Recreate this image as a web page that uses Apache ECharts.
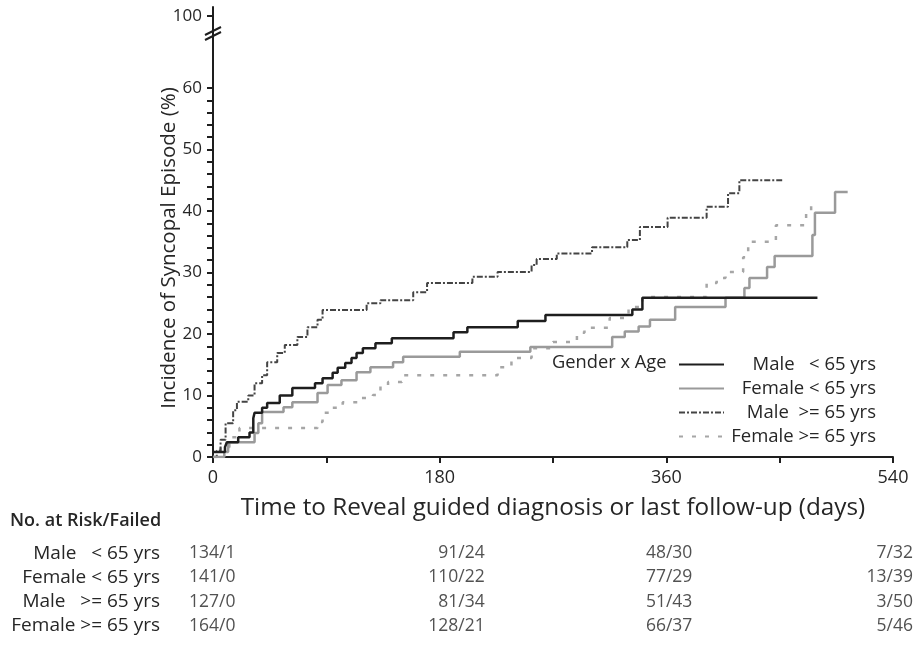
<!DOCTYPE html>
<html><head><meta charset="utf-8">
<script src="https://cdn.jsdelivr.net/npm/echarts@6/dist/echarts.min.js"></script>
<style>html,body{margin:0;padding:0;background:#fff}#c{width:921px;height:648px}</style>
</head><body><div id="c"></div>
<script>
const seriesNames = ['Male   < 65 yrs', 'Female < 65 yrs', 'Male  >= 65 yrs', 'Female >= 65 yrs'];

const maleU65Days = [0,9.5,11,20,29,32,33,39,43,53,63,81,87,95,99,105,110,114,119,129,142,191,202,242,264,333,341,480];
const maleU65Pct  = [0.8,1.6,2.4,3.2,4,6.3,7.2,8,8.8,10,11.2,12,12.8,13.7,14.5,15.3,16.1,16.9,17.7,18.5,19.3,20.3,21.1,22.1,23.1,24,25.9,25.9];

const femaleU65Days = [0,9,12,33,36,39,56,63,83,91,102,114,125,143,151,196,252,317,327,338,347,367,407,422,426,440,446,476,478,494,504];
const femaleU65Pct  = [0,0.8,2.4,3.9,5.5,7.3,8.1,8.9,10.4,11.7,12.5,13.8,14.6,15.4,16.3,17.1,17.9,19.5,20.4,21.2,22.3,24.4,25.9,27.5,29.1,30.9,32.7,36.1,39.7,43.1,43.1];

const maleO65Days = [0,3,6,10,16,19,28,33,39,43,51,57,67,75,83,87,122,133,159,170,206,226,253,257,273,301,329,339,361,392,409,418,452];
const maleO65Pct  = [0,1,2.8,5.5,7.6,9,10,12,13.3,15.4,16.9,18.2,19.5,21.1,22.3,23.9,25,25.5,26.8,28.3,29.3,30.1,31.2,32.2,33.1,34.1,35.3,37.4,38.9,40.7,42.9,45,45];

const femaleO65Days = [0,6,13,21,83,87,94,103,117,127,133,139,150,226,237,253,270,289,295,315,330,341,392,400,407,421,425,447,471,475,476];
const femaleO65Pct  = [0,1.6,3.2,4.7,5.7,7.2,8,8.9,9.6,10.1,11.7,12.2,13.3,14.6,16.1,17.7,18.7,20.2,21,22.6,24.4,26,28.3,29.1,30.1,32.5,35,37.7,39.7,41.8,41.8];

const xTicks = [0, 180, 360, 540];
const yTopTick = [100];

const riskHeader = 'No. at Risk/Failed';
const riskRowLabels = ['Male   < 65 yrs', 'Female < 65 yrs', 'Male   >= 65 yrs', 'Female >= 65 yrs'];
const riskDays = [0, 180, 360, 540];
const riskMaleU65   = ['134/1', '91/24', '48/30', '7/32'];
const riskFemaleU65 = ['141/0', '110/22', '77/29', '13/39'];
const riskMaleO65   = ['127/0', '81/34', '51/43', '3/50'];
const riskFemaleO65 = ['164/0', '128/21', '66/37', '5/46'];

const FONT = 'Open Sans';
const TXT = '#262626';
const AX = '#1e1e1e';

function pairs(d, v) { return d.map((t, i) => [t, v[i]]); }

const lineStyles = [
  { color: '#1e1e1e', width: 2.5, type: 'solid' },
  { color: '#9a9a9a', width: 2.5, type: 'solid' },
  { color: '#444444', width: 2, type: [6, 2, 2, 2] },
  { color: '#a6a6a6', width: 2.5, type: [4, 9] }
];
const curveData = [
  pairs(maleU65Days, maleU65Pct),
  pairs(femaleU65Days, femaleU65Pct),
  pairs(maleO65Days, maleO65Pct),
  pairs(femaleO65Days, femaleO65Pct)
];

const lineSeries = seriesNames.map((n, i) => ({
  name: n, type: 'line', step: 'end', symbol: 'none',
  xAxisIndex: 0, yAxisIndex: 0,
  data: curveData[i],
  lineStyle: lineStyles[i],
  itemStyle: { color: lineStyles[i].color },
  z: 10 - i
}));

const riskRows = [riskMaleU65, riskFemaleU65, riskMaleO65, riskFemaleO65];
const colLabel = [
  { align: 'left', offset: [-24, 0] },
  { align: 'right', offset: [45, 0] },
  { align: 'right', offset: [26, 0] },
  { align: 'right', offset: [20, 0] }
];
const riskData = [];
riskRows.forEach((row, r) => {
  row.forEach((txt, c) => {
    riskData.push({ name: txt, value: [riskDays[c], r], label: colLabel[c] });
  });
});

const chart = echarts.init(document.getElementById('c'), null, { renderer: 'canvas' });
chart.setOption({
  animation: false,
  backgroundColor: '#ffffff',
  textStyle: { fontFamily: FONT, color: TXT },
  grid: [
    { left: 213, right: 28, top: 88, bottom: 191 },
    { left: 213, right: 28, top: 7, height: 81 },
    { left: 213, right: 28, top: 541, height: 97 }
  ],
  xAxis: [
    {
      gridIndex: 0, type: 'value', min: 0, max: 540, interval: 180,
      axisLine: { show: true, onZero: false, lineStyle: { color: AX, width: 2 } },
      axisTick: { show: true, length: 6, lineStyle: { color: AX, width: 2 } },
      minorTick: { show: true, splitNumber: 2, length: 6, lineStyle: { color: AX, width: 2 } },
      splitLine: { show: false },
      axisLabel: { fontFamily: FONT, fontSize: 18, color: TXT, margin: 12, customValues: xTicks },
      name: 'Time to Reveal guided diagnosis or last follow-up (days)',
      nameLocation: 'middle', nameGap: 39,
      nameTextStyle: { fontFamily: FONT, fontSize: 24.3, color: TXT }
    },
    { gridIndex: 1, type: 'value', min: 0, max: 540, show: false },
    { gridIndex: 2, type: 'value', min: 0, max: 540, show: false }
  ],
  yAxis: [
    {
      gridIndex: 0, type: 'value', min: 0, max: 60, interval: 10,
      axisLine: { show: true, onZero: false, lineStyle: { color: AX, width: 2 } },
      axisTick: { show: true, length: 6, lineStyle: { color: AX, width: 2 } },
      minorTick: { show: true, splitNumber: 5, length: 6, lineStyle: { color: AX, width: 2 } },
      splitLine: { show: false },
      axisLabel: { fontFamily: FONT, fontSize: 17, color: TXT, margin: 11 }
    },
    {
      gridIndex: 1, type: 'value', min: 60, max: 105,
      axisLine: { show: true, onZero: false, lineStyle: { color: AX, width: 2 } },
      axisTick: { show: true, length: 6, customValues: yTopTick, lineStyle: { color: AX, width: 2 } },
      splitLine: { show: false },
      axisLabel: { fontFamily: FONT, fontSize: 17, color: TXT, margin: 11, customValues: yTopTick }
    },
    {
      gridIndex: 2, type: 'category', inverse: true,
      data: riskRowLabels,
      axisLine: { show: false }, axisTick: { show: false }, splitLine: { show: false },
      axisLabel: { fontFamily: FONT, fontSize: 19, color: TXT, margin: 53, interval: 0 }
    }
  ],
  legend: {
    data: seriesNames,
    orient: 'vertical',
    left: 678, top: 355,
    padding: 0,
    itemWidth: 45, itemHeight: 14, itemGap: 5,
    itemStyle: { color: 'rgba(0,0,0,0)', borderWidth: 0, opacity: 0 },
    formatter: n => '{n|' + n + '}',
    textStyle: {
      fontFamily: FONT, color: TXT,
      rich: { n: { width: 147, align: 'right', fontSize: 18.5, lineHeight: 18, fontFamily: FONT, color: TXT } }
    },
    selectedMode: false
  },
  graphic: [
    { type: 'text', left: 552, top: 354, style: { text: 'Gender x Age', fontFamily: FONT, fontSize: 18.3, fill: TXT } },
    { type: 'text', x: 169, y: 248, rotation: Math.PI / 2,
      style: { text: 'Incidence of Syncopal Episode (%)', fontFamily: FONT, fontSize: 20.5, fill: TXT, align: 'center', verticalAlign: 'middle' } },
    { type: 'text', left: 10, top: 512, style: { text: riskHeader, fontFamily: FONT, fontSize: 18, fill: TXT, fontWeight: 600 } },
    { type: 'line', shape: { x1: 205, y1: 35, x2: 221, y2: 27 }, style: { stroke: AX, lineWidth: 2 } },
    { type: 'line', shape: { x1: 205, y1: 40, x2: 221, y2: 32 }, style: { stroke: AX, lineWidth: 2 } }
  ],
  series: lineSeries.concat([{
    type: 'scatter', xAxisIndex: 2, yAxisIndex: 2,
    symbolSize: 1, itemStyle: { color: 'transparent' }, silent: true,
    data: riskData,
    label: { show: true, position: 'inside', formatter: '{b}', fontFamily: FONT, fontSize: 17.5, color: TXT }
  }])
});
</script></body></html>
